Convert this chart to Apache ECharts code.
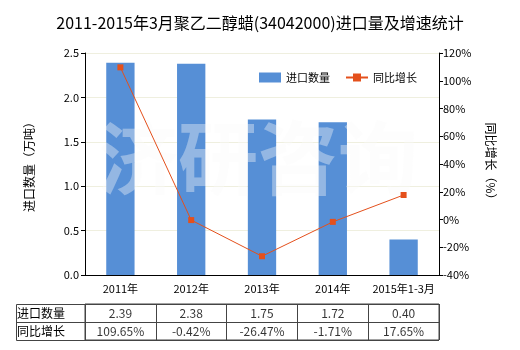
<!DOCTYPE html>
<html>
<head>
<meta charset="utf-8">
<script src="https://cdn.jsdelivr.net/npm/echarts@6/dist/echarts.min.js"></script>
<style>
  html, body { margin: 0; padding: 0; background: #fff; }
  #chart { width: 520px; height: 350px; }
</style>
</head>
<body>
<div id="chart"></div>
<script>
// Import volume (10k tonnes) and year-on-year growth (%) of polyethylene glycol wax
const categories = ['2011年', '2012年', '2013年', '2014年', '2015年1-3月'];
const importVolume = [2.39, 2.38, 1.75, 1.72, 0.40];
const growthRate = [109.65, -0.42, -26.47, -1.71, 17.65];
const rowNames = ['进口数量', '同比增长'];
const leftTicks = { min: 0, max: 2.5, interval: 0.5 };
const rightTicks = { min: -40, max: 120, interval: 20 };

const FONT = 'Noto Sans CJK SC';
const barColor = '#568fd6';
const lineColor = '#e4501c';
const gridColor = '#efefdf';

// Table cells: [categoryIndex, rowIndex, text]
const tableCells = [];
categories.forEach((c, i) => {
  tableCells.push([i, 0, importVolume[i].toFixed(2)]);
  tableCells.push([i, 1, growthRate[i].toFixed(2) + '%']);
});

const chart = echarts.init(document.getElementById('chart'), null, { renderer: 'canvas' });

const option = {
  animation: false,
  backgroundColor: '#fff',
  textStyle: { fontFamily: FONT },
  title: {
    text: '2011-2015年3月聚乙二醇蜡(34042000)进口量及增速统计',
    left: 'center',
    top: 10,
    textStyle: { fontFamily: FONT, fontSize: 16, fontWeight: 'normal', color: '#000' }
  },
  legend: {
    left: 254,
    top: 67,
    itemWidth: 22,
    itemHeight: 10,
    itemGap: 15,
    textStyle: { fontFamily: FONT, fontSize: 11, color: '#000' },
    data: [
      { name: '进口数量', icon: 'rect' },
      { name: '同比增长' }
    ]
  },
  grid: [
    { left: 85, right: 81, top: 53, bottom: 75 },
    { left: 85, right: 81, top: 304, height: 36, show: true, borderColor: '#444', borderWidth: 1 }
  ],
  xAxis: [
    {
      type: 'category',
      gridIndex: 0,
      data: categories,
      axisLine: { lineStyle: { color: '#000' } },
      axisTick: { alignWithLabel: true, length: 5, lineStyle: { color: '#000' } },
      axisLabel: { color: '#000', fontSize: 11, fontFamily: FONT, margin: 8, interval: 0 }
    },
    {
      type: 'category',
      gridIndex: 1,
      data: categories,
      axisLine: { show: false },
      axisTick: { show: false },
      axisLabel: { show: false },
      splitLine: { show: true, interval: 0, lineStyle: { color: '#444', width: 1 } }
    }
  ],
  yAxis: [
    {
      type: 'value',
      gridIndex: 0,
      min: leftTicks.min, max: leftTicks.max, interval: leftTicks.interval,
      name: '进口数量（万吨）',
      nameLocation: 'middle',
      nameGap: 50,
      nameRotate: 90,
      nameTextStyle: { fontFamily: FONT, fontSize: 12, color: '#000' },
      axisLine: { show: true, lineStyle: { color: '#000' } },
      axisTick: { show: true, length: 4, lineStyle: { color: '#000' } },
      axisLabel: { color: '#000', fontSize: 11, fontFamily: FONT, margin: 6,
        formatter: v => v.toFixed(1) },
      splitLine: { show: true, lineStyle: { color: gridColor, width: 1 } }
    },
    {
      type: 'value',
      gridIndex: 0,
      position: 'right',
      min: rightTicks.min, max: rightTicks.max, interval: rightTicks.interval,
      name: '同比增长（%）',
      nameLocation: 'middle',
      nameGap: 46,
      nameRotate: -90,
      nameTextStyle: { fontFamily: FONT, fontSize: 12, color: '#000' },
      axisLine: { show: true, lineStyle: { color: '#000' } },
      axisTick: { show: true, length: 4, lineStyle: { color: '#000' } },
      axisLabel: { color: '#000', fontSize: 11, fontFamily: FONT, margin: 4,
        formatter: v => v + '%' },
      splitLine: { show: false }
    },
    {
      type: 'category',
      gridIndex: 1,
      data: rowNames,
      inverse: true,
      axisLine: { show: false },
      axisTick: { show: false },
      axisLabel: { align: 'left', margin: 68, color: '#000', fontSize: 12, fontFamily: FONT },
      splitLine: { show: true, interval: 0, lineStyle: { color: '#444', width: 1 } }
    }
  ],
  graphic: [
    {
      type: 'text',
      z: 3,
      silent: true,
      style: {
        text: '济研咨询',
        x: 258, y: 158,
        align: 'center', verticalAlign: 'middle',
        fontSize: 80, fontWeight: 'bold', fontFamily: FONT,
        fill: 'rgba(250,250,250,0.38)'
      }
    },
    // frame of the row-name column of the table
    {
      type: 'polyline',
      silent: true,
      shape: { points: [[85, 304.5], [16.5, 304.5], [16.5, 340.5], [85, 340.5]] },
      style: { stroke: '#444', lineWidth: 1, fill: null }
    },
    {
      type: 'line',
      silent: true,
      shape: { x1: 16.5, y1: 322.5, x2: 85, y2: 322.5 },
      style: { stroke: '#444', lineWidth: 1 }
    }
  ],
  series: [
    {
      name: '进口数量',
      type: 'bar',
      xAxisIndex: 0, yAxisIndex: 0,
      data: importVolume,
      barWidth: '40%',
      itemStyle: { color: barColor },
      z: 2
    },
    {
      name: '同比增长',
      type: 'line',
      xAxisIndex: 0, yAxisIndex: 1,
      data: growthRate,
      symbol: 'rect',
      symbolSize: 6,
      lineStyle: { color: lineColor, width: 1 },
      itemStyle: { color: lineColor },
      z: 5
    },
    {
      name: 'table',
      type: 'scatter',
      xAxisIndex: 1, yAxisIndex: 2,
      data: tableCells,
      symbolSize: 0,
      silent: true,
      label: {
        show: true,
        position: 'inside',
        formatter: p => p.value[2],
        color: '#000', fontSize: 12, fontFamily: FONT
      }
    }
  ]
};

chart.setOption(option);
</script>
</body>
</html>
